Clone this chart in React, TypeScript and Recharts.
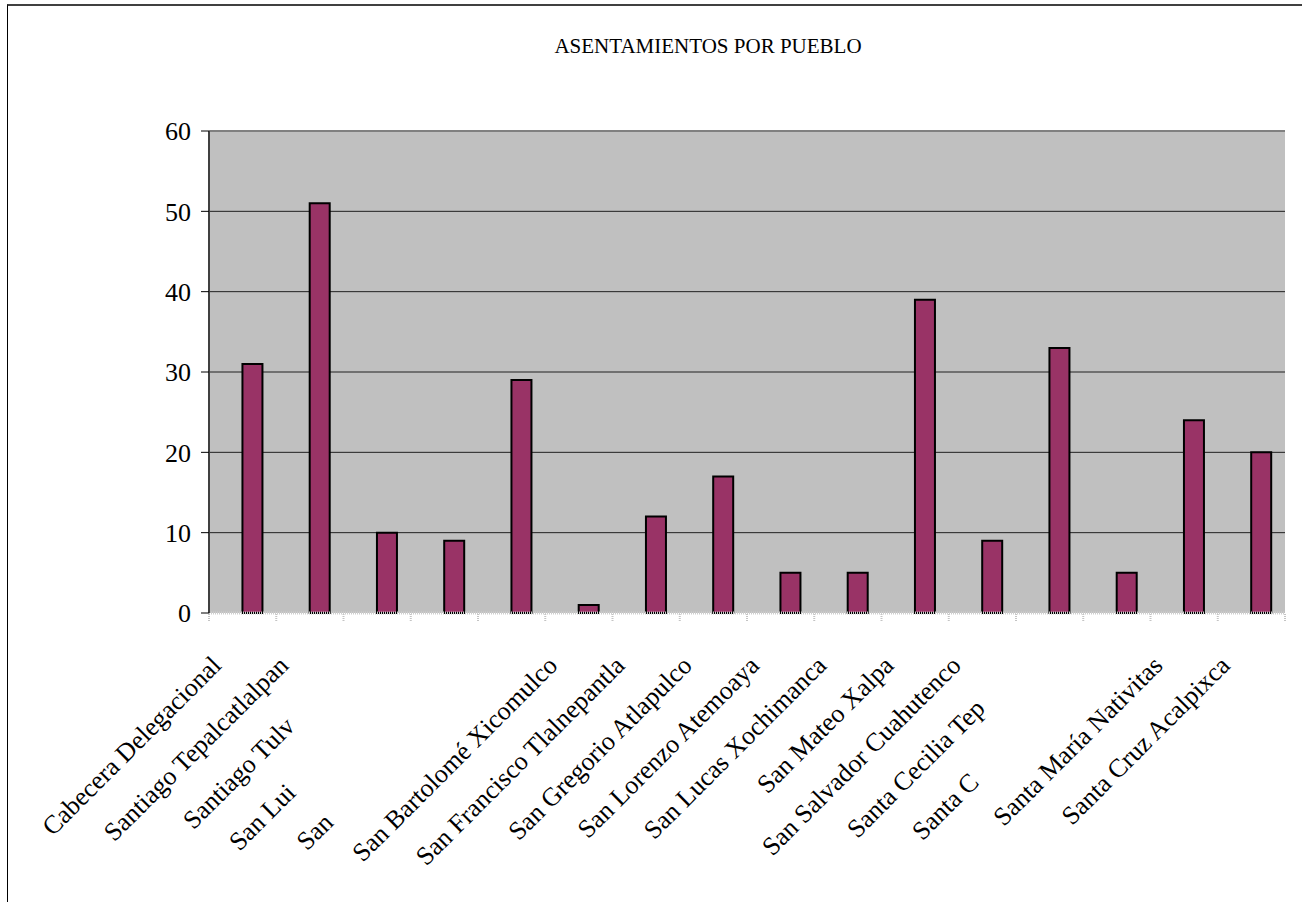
import React from "react";
import {
  BarChart,
  Bar,
  XAxis,
  YAxis,
  CartesianGrid,
  ReferenceLine,
} from "recharts";

const categories = [
  "Cabecera Delegacional",
  "Santiago Tepalcatlalpan",
  "Santiago Tulv",
  "San Lui",
  "San",
  "San Bartolomé Xicomulco",
  "San Francisco Tlalnepantla",
  "San Gregorio Atlapulco",
  "San Lorenzo Atemoaya",
  "San Lucas Xochimanca",
  "San Mateo Xalpa",
  "San Salvador Cuahutenco",
  "Santa Cecilia Tep",
  "Santa C",
  "Santa María Nativitas",
  "Santa Cruz Acalpixca",
];

const asentamientos = [31, 51, 10, 9, 29, 1, 12, 17, 5, 5, 39, 9, 33, 5, 24, 20];

const yTicks = [0, 10, 20, 30, 40, 50, 60];

const title = "ASENTAMIENTOS POR PUEBLO";

// layout only: how far (px, along the text baseline) truncated labels sit before their category
const labelShift: Record<string, number> = {
  "Santiago Tulv": 86,
  "San Lui": 180,
  "San": 222,
  "Santa Cecilia Tep": 61,
  "Santa C": 165,
};

const data = categories.map((name, i) => ({
  name,
  spacer: null as number | null,
  value: asentamientos[i],
}));

const FONT = "'Liberation Serif', 'Times New Roman', serif";

const CHART_W = 1302;
const CHART_H = 902;
const MARGIN = { top: 131, right: 17, left: 149, bottom: 288 };
const Y_AXIS_W = 60;
const BAND = (CHART_W - MARGIN.left - MARGIN.right - Y_AXIS_W) / categories.length;
const TICK_SIZE = 6;
const TICK_MARGIN = 2;

const CategoryTick = (props: any) => {
  const { x, y, payload, index } = props;
  const label: string = payload.value;
  const shift = labelShift[label] || 0;
  const ax = x - 20 - shift * Math.SQRT1_2;
  const ay = y + 46 + shift * Math.SQRT1_2;
  const axisY = y - TICK_SIZE - TICK_MARGIN;
  const tickStyle = { stroke: "#c4c4c4", strokeWidth: 2, strokeDasharray: "1 1" };
  return (
    <g>
      <line x1={x - BAND / 2} x2={x - BAND / 2} y1={axisY + 1} y2={axisY + 9} {...tickStyle} />
      {index === categories.length - 1 && (
        <line x1={x + BAND / 2} x2={x + BAND / 2} y1={axisY + 1} y2={axisY + 9} {...tickStyle} />
      )}
      <text
        x={ax}
        y={ay}
        textAnchor="end"
        fontFamily={FONT}
        fontSize={26}
        fill="#000"
        transform={`rotate(-45, ${ax}, ${ay})`}
      >
        {label}
      </text>
    </g>
  );
};

export default function App() {
  return (
    <div style={{ position: "fixed", left: 0, top: 0, width: CHART_W, height: CHART_H, background: "#fff" }}>
      <div
        style={{
          position: "absolute",
          left: 7,
          top: 4,
          width: 1300,
          height: 900,
          borderLeft: "1px solid #000",
          borderTop: "2px solid #404040",
        }}
      />
      <div
        style={{
          position: "absolute",
          left: 408,
          width: 600,
          top: 34,
          textAlign: "center",
          fontFamily: FONT,
          fontSize: 21,
          color: "#000",
        }}
      >
        {title}
      </div>
      <div style={{ position: "absolute", left: 0, top: 0 }}>
        <BarChart
          width={CHART_W}
          height={CHART_H}
          data={data}
          margin={MARGIN}
          barCategoryGap="20%"
          barGap={0}
        >
          <CartesianGrid
            fill="#C0C0C0"
            vertical={false}
            horizontalValues={yTicks.slice(1, -1)}
            stroke="#202020"
            strokeWidth={1}
          />
          <XAxis
            dataKey="name"
            height={1}
            interval={0}
            tickSize={TICK_SIZE}
            tickMargin={TICK_MARGIN}
            tickLine={false}
            axisLine={{ stroke: "#cdcdcd", strokeWidth: 3, strokeDasharray: "1 1" }}
            tick={<CategoryTick />}
          />
          <YAxis
            domain={[0, 60]}
            ticks={yTicks}
            interval={0}
            width={Y_AXIS_W}
            tickSize={8}
            tickMargin={10}
            axisLine={{ stroke: "#404040", strokeWidth: 2 }}
            tickLine={{ stroke: "#000", strokeWidth: 1 }}
            tick={{ fontFamily: FONT, fontSize: 26, fill: "#000" }}
          />
          <YAxis
            yAxisId="right"
            orientation="right"
            domain={[0, 60]}
            width={0}
            tick={false}
            tickLine={false}
            axisLine={{ stroke: "#808080", strokeWidth: 2 }}
          />
          <ReferenceLine y={60} stroke="#808080" strokeWidth={2} />
          <Bar dataKey="spacer" isAnimationActive={false} fill="none" />
          <Bar
            dataKey="value"
            fill="#993366"
            stroke="#000"
            strokeWidth={2}
            isAnimationActive={false}
          />
        </BarChart>
      </div>
    </div>
  );
}
